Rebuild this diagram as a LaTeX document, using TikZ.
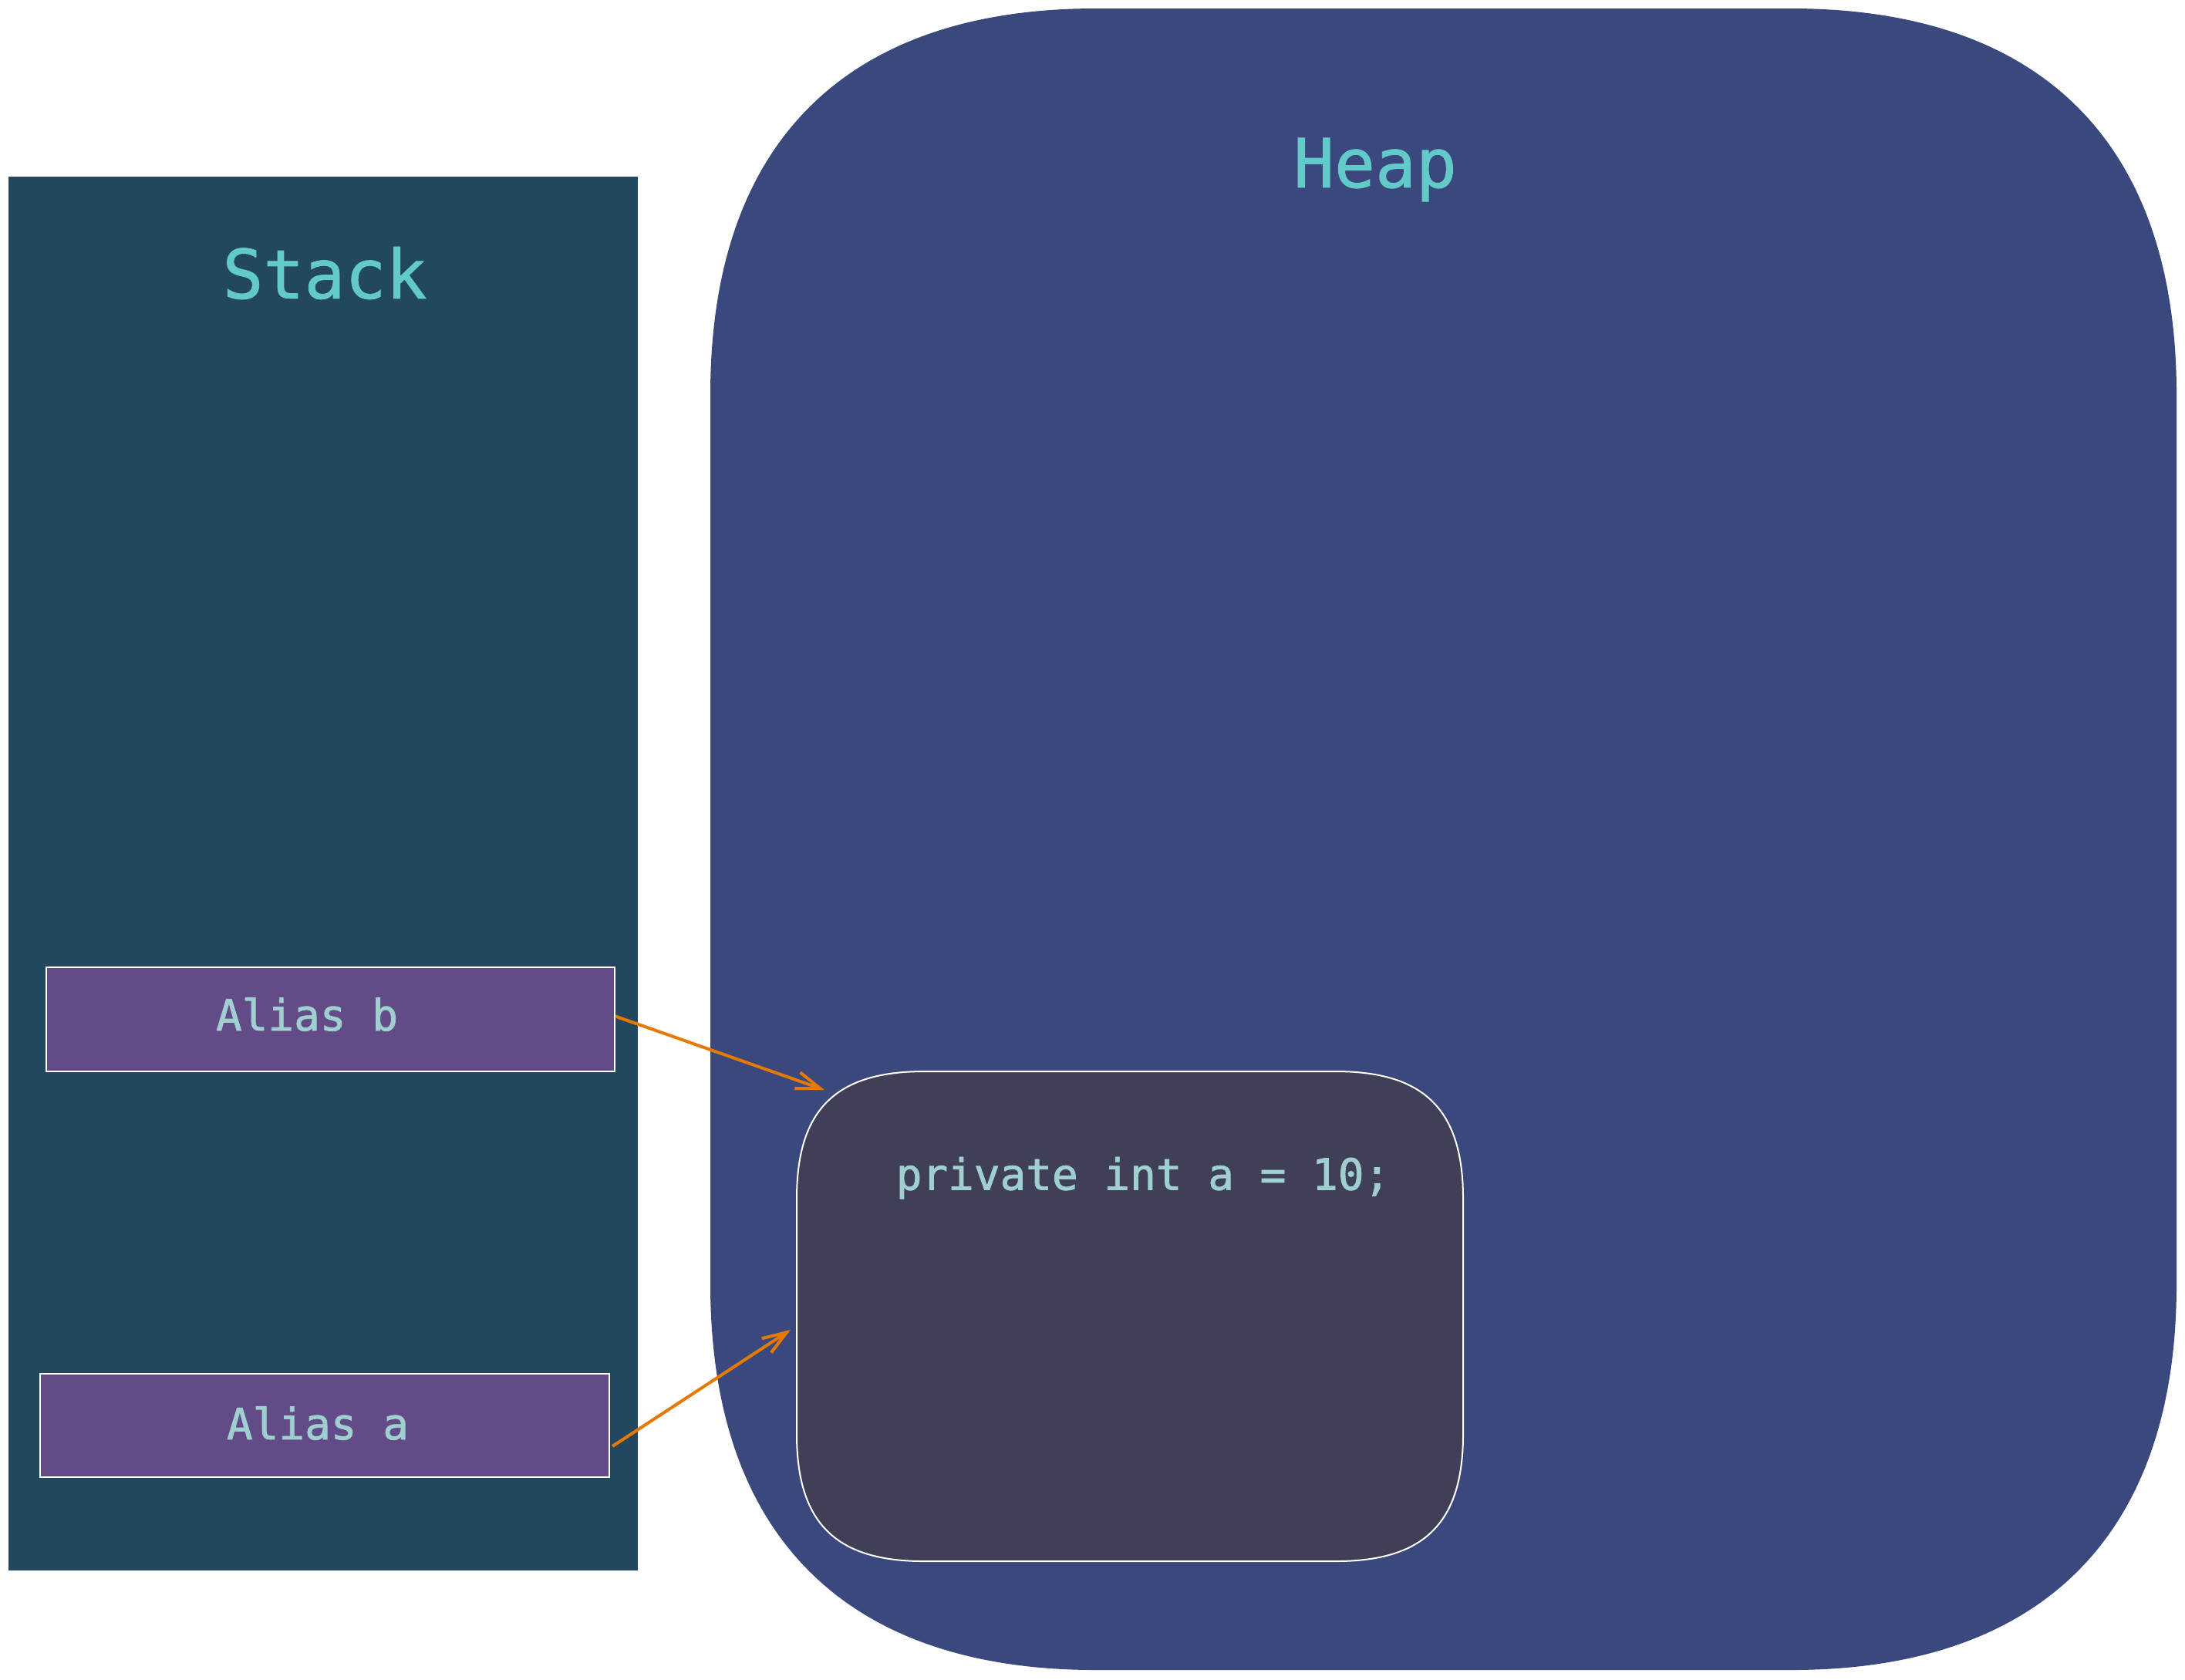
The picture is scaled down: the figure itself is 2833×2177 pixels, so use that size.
\documentclass[tikz,border=0pt]{standalone}
\usepackage{fontspec}
\setmonofont{DejaVu Sans Mono}
\newfontfamily\headmono[FakeBold=1]{DejaVu Sans Mono}
\newfontfamily\codemono[FakeBold=1.5]{DejaVu Sans Mono}
\usetikzlibrary{arrows.meta}
\definecolor{stackbg}{HTML}{23475E}
\definecolor{heapbg}{HTML}{3B487D}
\definecolor{objbg}{HTML}{3F4058}
\definecolor{aliasbg}{HTML}{634B87}
\definecolor{headtxt}{HTML}{62CBC9}
\definecolor{codetxt}{HTML}{A0CFCF}
\definecolor{arrowc}{HTML}{E57A00}
\tikzset{
  headlabel/.style={text=headtxt, font=\headmono\fontsize{22}{26}\selectfont, inner sep=0pt},
  codelabel/.style={text=codetxt, font=\codemono\fontsize{14}{17}\selectfont, inner sep=0pt},
  aliasbox/.style={draw=white, line width=0.5pt, fill=aliasbg, rectangle, inner sep=0pt},
  ptr/.style={draw=arrowc, line width=1pt, -{Straight Barb[length=7.8pt,width=5.5pt,line width=1pt]}},
}
\begin{document}
\begin{tikzpicture}[x=0.25pt,y=-0.25pt]
\useasboundingbox (0,0) rectangle (2833,2177);
% stack
\fill[stackbg] (11,229) rectangle (827,2036);
\node[headlabel] (stacklbl) at (421,354) {Stack};
% heap
\fill[heapbg] (921,511) -- (921,1665) .. controls (921,1990) and (1096,2165) .. (1421,2165)
  -- (2322,2165) .. controls (2647,2165) and (2822,1990) .. (2822,1665)
  -- (2822,511) .. controls (2822,186) and (2647,11) .. (2322,11)
  -- (1421,11) .. controls (1096,11) and (921,186) .. (921,511) -- cycle;
\node[headlabel] (heaplbl) at (1783,220) {Heap};
% object
\draw[white, line width=0.5pt, fill=objbg] (1033,1554) -- (1033,1859) .. controls (1033,1974) and (1083,2024) .. (1198,2024)
  -- (1732,2024) .. controls (1847,2024) and (1897,1974) .. (1897,1859)
  -- (1897,1554) .. controls (1897,1439) and (1847,1389) .. (1732,1389)
  -- (1198,1389) .. controls (1083,1389) and (1033,1439) .. (1033,1554) -- cycle;
\node[codelabel] (code) at (1482,1527) {private int a = 10;};
% aliases
\node[aliasbox, minimum width=184.25pt, minimum height=33.75pt] (ab) at (428.5,1321.5) {};
\node[codelabel] (abl) at (398,1315) {Alias b};
\node[aliasbox, minimum width=184.5pt, minimum height=33.5pt] (aa) at (421,1848) {};
\node[codelabel] (aal) at (412,1845) {Alias a};
% pointers
\coordinate (bstart) at ([yshift=1pt]ab.east);
\coordinate (bend) at (1069,1413);
\coordinate (astart) at ([xshift=0.75pt,yshift=-6.75pt]aa.east);
\coordinate (aend) at (1025,1724);
\draw[ptr] (bstart) -- (bend);
\draw[ptr] (astart) -- (aend);
\end{tikzpicture}
\end{document}
